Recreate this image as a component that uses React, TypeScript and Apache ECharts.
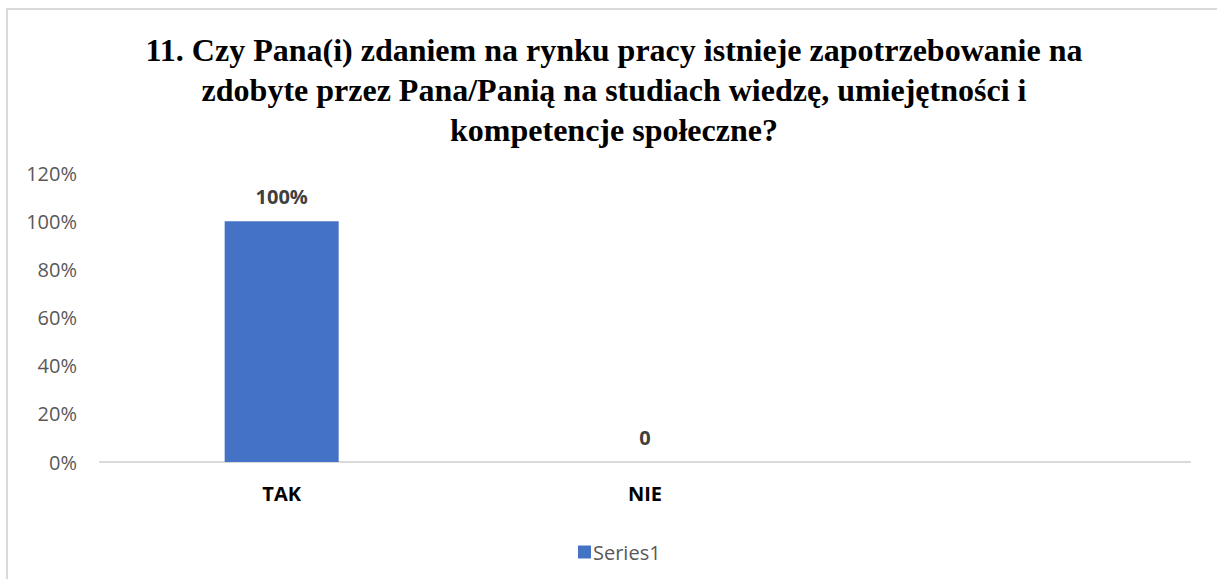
import React, { useEffect, useRef } from "react";
import * as echarts from "echarts";

const titleLines = [
  "11. Czy Pana(i) zdaniem na rynku pracy istnieje zapotrzebowanie na",
  "zdobyte przez Pana/Panią na studiach wiedzę, umiejętności i",
  "kompetencje społeczne?",
];
const categories = ["TAK", "NIE", ""];
const values = [100, 0];
const seriesName = "Series1";
const yMin = 0;
const yMax = 120;
const yInterval = 20;

export default function App() {
  const ref = useRef<HTMLDivElement>(null);
  useEffect(() => {
    if (!ref.current) return;
    const chart = echarts.init(ref.current, undefined, { renderer: "svg" });
    chart.setOption({
      animation: false,
      backgroundColor: "#ffffff",
      graphic: [
        {
          type: "rect",
          shape: { x: 7, y: 9, width: 1240, height: 620 },
          style: { fill: "none", stroke: "#d9d9d9", lineWidth: 2 },
          silent: true,
        },
        {
          type: "text",
          x: 614,
          y: 30,
          style: {
            text: titleLines.join("\n"),
            fontFamily: "Liberation Serif, Times New Roman, serif",
            fontSize: 32,
            fontWeight: "bold",
            fill: "#000000",
            align: "center",
            verticalAlign: "top",
            lineHeight: 40,
          },
        },
      ],
      legend: {
        show: true,
        left: 573,
        top: 537,
        icon: "rect",
        itemWidth: 13,
        itemHeight: 13,
        itemGap: 10,
        textStyle: { fontFamily: "Open Sans", fontSize: 20, color: "#595959", padding: [0, 0, 0, -3] },
        data: [seriesName],
      },
      grid: { left: 100, right: 27, top: 173, bottom: 117, containLabel: false },
      xAxis: {
        type: "category",
        data: categories,
        axisLine: { show: true, lineStyle: { color: "#d9d9d9", width: 2 } },
        axisTick: { show: false },
        axisLabel: {
          margin: 21,
          fontFamily: "Open Sans",
          fontSize: 20,
          fontWeight: "bold",
          color: "#000000",
        },
      },
      yAxis: {
        type: "value",
        min: yMin,
        max: yMax,
        interval: yInterval,
        axisLine: { show: false },
        axisTick: { show: false },
        splitLine: { show: false },
        axisLabel: {
          margin: 23,
          fontFamily: "Open Sans",
          fontSize: 20,
          color: "#595959",
          formatter: "{value}%",
        },
      },
      series: [
        {
          name: seriesName,
          type: "bar",
          data: values,
          barWidth: 114,
          itemStyle: { color: "#4472c4" },
          label: {
            show: true,
            position: "top",
            distance: 15,
            fontFamily: "Open Sans",
            fontSize: 20,
            fontWeight: "bold",
            color: "#404040",
            formatter: (p: any) => (p.value === 0 ? "0" : p.value + "%"),
          },
        },
      ],
    });
    return () => chart.dispose();
  }, []);
  return (
    <div
      ref={ref}
      style={{ position: "fixed", left: 0, top: 0, width: 1217, height: 579 }}
    />
  );
}
